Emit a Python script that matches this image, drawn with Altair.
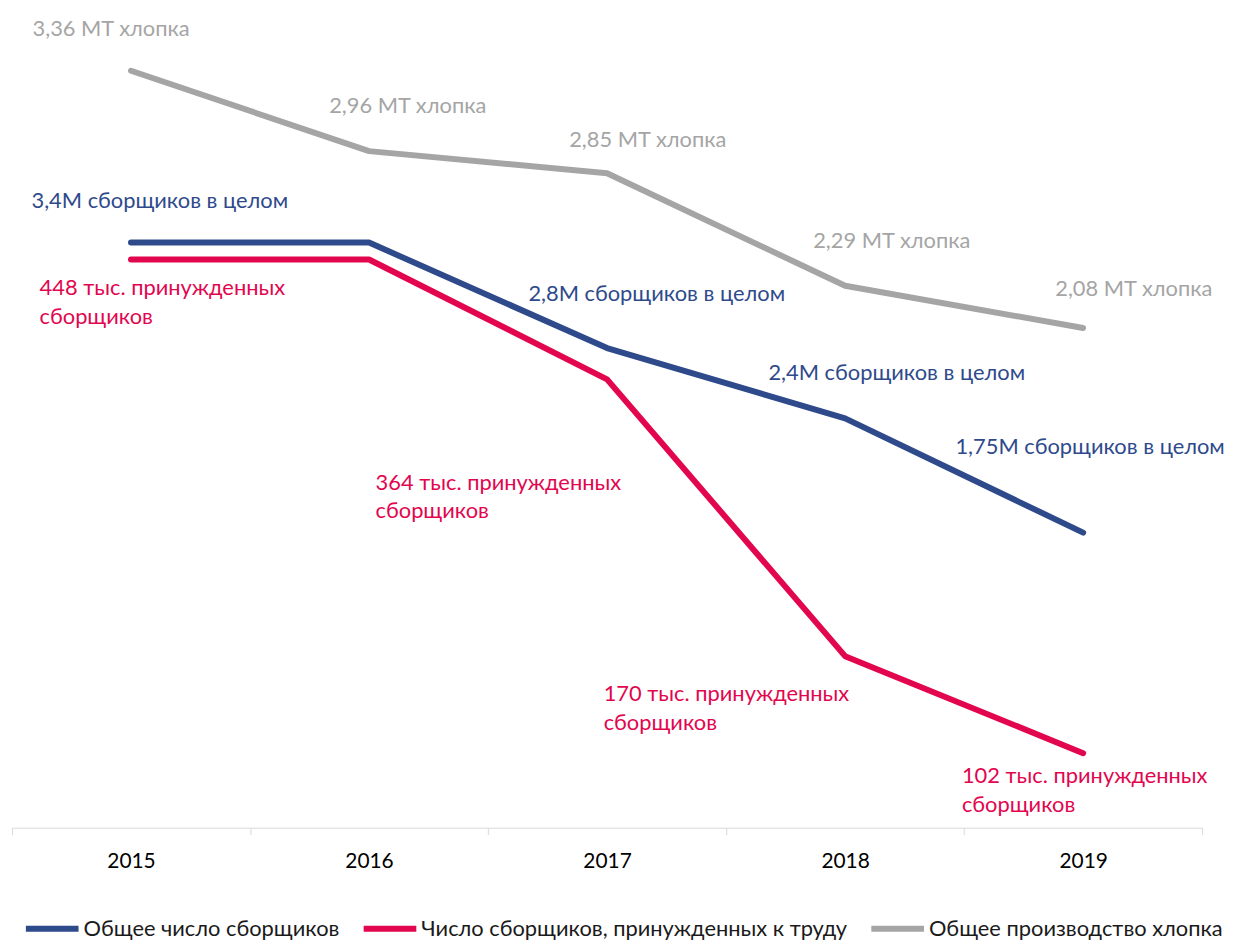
import altair as alt
import pandas as pd

# ---------------- data ----------------
years = ["2015", "2016", "2017", "2018", "2019"]

series_names = [
    "Общее число сборщиков",
    "Число сборщиков, принужденных к труду",
    "Общее производство хлопка",
]

pickers_total_m = [3.4, 3.4, 2.8, 2.4, 1.75]        # million pickers
pickers_forced_k = [448, 448, 364, 170, 102]        # thousand forced pickers
cotton_mt = [3.36, 2.96, 2.85, 2.29, 2.08]          # million tonnes of cotton

total_labels = [
    "3,4M сборщиков в целом", "", "2,8M сборщиков в целом",
    "2,4M сборщиков в целом", "1,75M сборщиков в целом",
]
forced_labels = [
    "448 тыс. принужденных\nсборщиков", "", "364 тыс. принужденных\nсборщиков",
    "170 тыс. принужденных\nсборщиков", "102 тыс. принужденных\nсборщиков",
]
cotton_labels = [
    "3,36 MT хлопка", "2,96 MT хлопка", "2,85 MT хлопка",
    "2,29 MT хлопка", "2,08 MT хлопка",
]

# ---------------- style ----------------
FONT = "Lato"
FS = 22
COLORS = ["#2E4A8B", "#E2064F", "#A5A5A5"]
TEXT_COLORS = ["#2E4A8B", "#E2064F", "#A5A5A5"]

# independent y-domains per series (chosen to place lines like the original)
DOMAINS = [[0.0723, 4.705], [49.78, 620.7], [-0.4063, 3.647]]

# label offsets (dx, dy) in pixels per year
OFFSETS = [
    {"2015": (29, -42), "2017": (50, -54), "2018": (52, -46), "2019": (7, -86)},
    {"2015": (-92, 29), "2017": (-233, 104), "2018": (-243, 38), "2019": (-122, 23)},
    {"2015": (-20, -42), "2016": (39, -45), "2017": (41, -33), "2018": (47, -45), "2019": (51, -39)},
]
ALIGNS = ["center", "left", "center"]

values = [pickers_total_m, pickers_forced_k, cotton_mt]
labels = [total_labels, forced_labels, cotton_labels]

x_enc = alt.X(
    "year:N",
    bandPosition=0.5,
    scale=alt.Scale(type="band", domain=years, paddingInner=0, paddingOuter=0),
    axis=alt.Axis(
        title=None,
        labelAngle=0,
        labelFont=FONT,
        labelFontSize=21,
        labelColor="#000000",
        labelPadding=16,
        domainColor="#D9D9D9",
        domainWidth=1,
        tickColor="#D9D9D9",
        tickSize=7,
        tickBand="extent",
        grid=False,
    ),
)

color_enc = alt.Color(
    "series:N",
    scale=alt.Scale(domain=series_names, range=COLORS),
    legend=alt.Legend(
        title=None,
        orient="none",
        legendX=11,
        legendY=892,
        direction="horizontal",
        symbolType="stroke",
        symbolSize=2809,
        symbolStrokeWidth=6,
        labelFont=FONT,
        labelFontSize=FS,
        labelColor="#1A1A1A",
        labelLimit=800,
        labelOffset=2,
        columnPadding=12,
    ),
)

groups = []
for i, name in enumerate(series_names):
    df = pd.DataFrame({
        "year": years,
        "series": [name] * len(years),
        "value": values[i],
        "label": labels[i],
    })
    y_enc = alt.Y(
        "value:Q",
        scale=alt.Scale(domain=DOMAINS[i], zero=False, nice=False),
        axis=None,
    )
    base = alt.Chart(df)
    line = base.mark_line(strokeWidth=6, strokeCap="round", strokeJoin="round").encode(
        x=x_enc, y=y_enc, color=color_enc
    )
    layers = [line]
    for yr, (dx, dy) in OFFSETS[i].items():
        t = base.transform_filter(alt.datum.year == yr).mark_text(
            dx=dx, dy=dy, align=ALIGNS[i], baseline="middle",
            font=FONT, fontSize=FS, color=TEXT_COLORS[i],
            lineBreak="\n", lineHeight=29,
        ).encode(x=x_enc, y=y_enc, text="label:N")
        layers.append(t)
    groups.append(alt.layer(*layers))

chart = alt.layer(*groups).resolve_scale(y="independent").properties(
    width=1198,
    height=820,
    autosize=alt.AutoSizeParams(type="none"),
    padding={"left": 4, "top": 2, "right": 24, "bottom": 116},
    background="white",
).configure_view(stroke=None)

chart.save("out.html", embed_options={"renderer": "svg", "actions": False})
